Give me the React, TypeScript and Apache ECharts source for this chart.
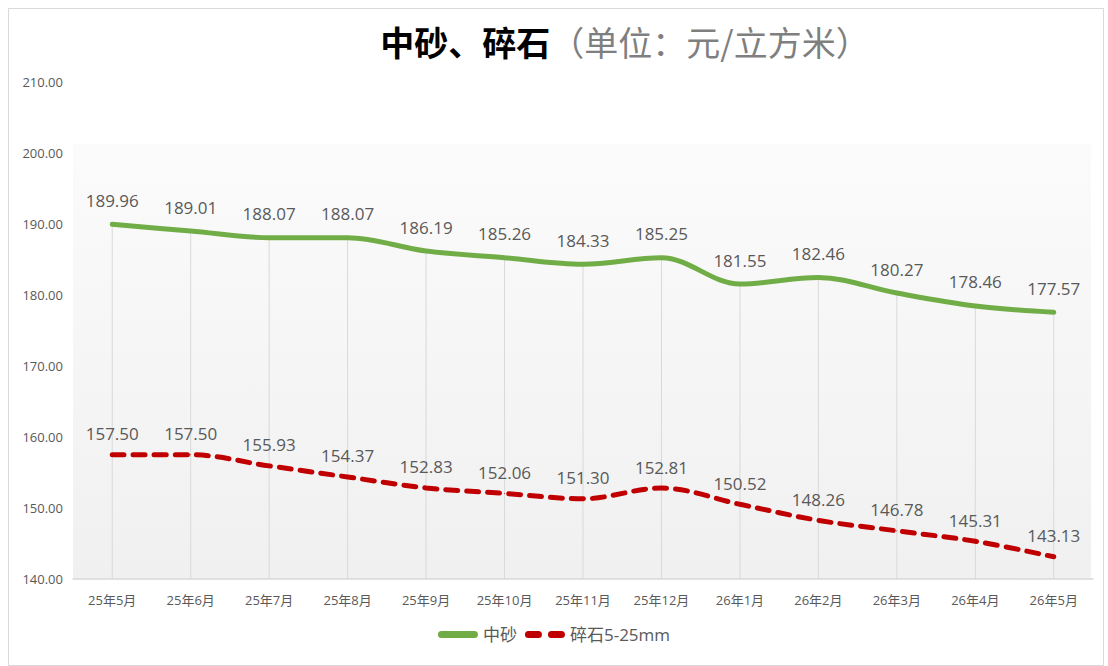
import React, { useEffect, useRef } from "react";
import * as echarts from "echarts";

const categories = ["25年5月", "25年6月", "25年7月", "25年8月", "25年9月", "25年10月", "25年11月", "25年12月", "26年1月", "26年2月", "26年3月", "26年4月", "26年5月"];
const sandValues = [189.96, 189.01, 188.07, 188.07, 186.19, 185.26, 184.33, 185.25, 181.55, 182.46, 180.27, 178.46, 177.57];
const gravelValues = [157.5, 157.5, 155.93, 154.37, 152.83, 152.06, 151.3, 152.81, 150.52, 148.26, 146.78, 145.31, 143.13];
const yMin = 140;
const yMax = 210;
const yInterval = 10;

export default function App() {
  const ref = useRef<HTMLDivElement>(null);
  useEffect(() => {
    const chart = echarts.init(ref.current!, null, { renderer: "svg" });
    const font = "'Open Sans', 'Noto Sans CJK SC', sans-serif";
    const labelCfg = (dist: number) => ({
      show: true,
      position: "top",
      distance: dist,
      color: "#595959",
      fontSize: 17,
      fontFamily: font,
      formatter: (p: any) => Number(p.value).toFixed(2),
    });
    chart.setOption({
      animation: false,
      backgroundColor: "#ffffff",
      graphic: [
        {
          type: "rect",
          left: 6,
          top: 6,
          shape: { width: 1095, height: 657 },
          style: { fill: "none", stroke: "#d9d9d9", lineWidth: 1 },
          silent: true,
          z: -10,
        },
        {
          type: "rect",
          x: 73,
          y: 144,
          shape: { width: 1018, height: 435 },
          style: {
            fill: new echarts.graphic.LinearGradient(0, 0, 0, 1, [
              { offset: 0, color: "#fbfbfb" },
              { offset: 1, color: "#f0f0f0" },
            ]),
          },
          silent: true,
          z: -5,
        },
      ],
      title: {
        text: "{a|中砂、碎石}{b|（单位：元/立方米）}",
        left: 620,
        textAlign: "center",
        top: 19,
        textStyle: {
          rich: {
            a: { fontSize: 34, fontWeight: "bold", color: "#000000", fontFamily: "'Noto Sans CJK SC', sans-serif" },
            b: { fontSize: 34, fontWeight: "normal", color: "#7f7f7f", fontFamily: "'Noto Sans CJK SC', sans-serif" },
          },
        },
      },
      legend: {
        bottom: 18,
        left: "center",
        itemWidth: 40,
        itemHeight: 7,
        itemGap: 8,
        textStyle: { fontSize: 17, color: "#595959", fontFamily: font },
        data: [
          { name: "中砂", icon: "path://M3.5,0 L36.5,0 A3.5,3.5 0 0 1 36.5,7 L3.5,7 A3.5,3.5 0 0 1 3.5,0 Z" },
          {
            name: "碎石5-25mm",
            icon:
              "path://M3.5,0 L13.5,0 A3.5,3.5 0 0 1 13.5,7 L3.5,7 A3.5,3.5 0 0 1 3.5,0 Z M26.5,0 L36.5,0 A3.5,3.5 0 0 1 36.5,7 L26.5,7 A3.5,3.5 0 0 1 26.5,0 Z",
          },
        ],
      },
      grid: { left: 73, right: 15, top: 82, bottom: 87 },
      xAxis: {
        type: "category",
        data: categories,
        boundaryGap: true,
        axisLine: { lineStyle: { color: "#d9d9d9", width: 1.5 } },
        axisTick: { show: false },
        axisLabel: { color: "#595959", fontSize: 13, margin: 14, fontFamily: font },
        splitLine: { show: false },
      },
      yAxis: {
        type: "value",
        min: yMin,
        max: yMax,
        interval: yInterval,
        axisLine: { show: false },
        axisTick: { show: false },
        splitLine: { show: false },
        axisLabel: {
          color: "#595959",
          fontSize: 13,
          margin: 10,
          fontFamily: font,
          formatter: (v: number) => v.toFixed(2),
        },
      },
      series: [
        {
          type: "custom",
          name: "drop",
          silent: true,
          z: 1,
          data: sandValues.map((v, i) => [i, v]),
          renderItem: (params: any, api: any) => {
            const top = api.coord([api.value(0), api.value(1)]);
            const bottom = api.coord([api.value(0), yMin]);
            return {
              type: "line",
              shape: { x1: top[0], y1: top[1], x2: bottom[0], y2: bottom[1] },
              style: { stroke: "#d9d9d9", lineWidth: 1 },
            };
          },
        },
        {
          name: "中砂",
          type: "line",
          data: sandValues,
          smooth: 0.35,
          symbol: "circle",
          symbolSize: 1,
          showSymbol: true,
          z: 3,
          lineStyle: { color: "#70ad47", width: 5, cap: "round" },
          itemStyle: { color: "#70ad47" },
          labelLayout: { hideOverlap: false },
          label: labelCfg(15),
        },
        {
          name: "碎石5-25mm",
          type: "line",
          data: gravelValues,
          smooth: 0.35,
          symbol: "circle",
          symbolSize: 1,
          showSymbol: true,
          z: 3,
          lineStyle: { color: "#c00000", width: 5, type: [12, 9], cap: "round" },
          itemStyle: { color: "#c00000" },
          labelLayout: { hideOverlap: false },
          label: labelCfg(12),
        },
      ],
    });
    return () => chart.dispose();
  }, []);
  return (
    <div
      ref={ref}
      style={{ position: "fixed", left: 0, top: 0, width: 1108, height: 666 }}
    />
  );
}
